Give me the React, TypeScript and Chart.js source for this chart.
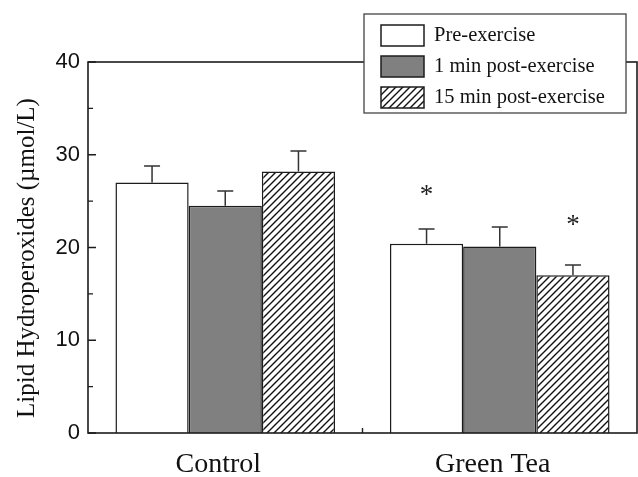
import React, { useEffect, useRef } from "react";
import { Chart, registerables } from "chart.js";

Chart.register(...registerables);

const categories = ["Control", "Green Tea"];
const seriesLabels = ["Pre-exercise", "1 min post-exercise", "15 min post-exercise"];
const yAxisTitle = "Lipid Hydroperoxides (µmol/L)";
const preValues = [27.0, 20.4];
const preErrors = [1.8, 1.6];
const post1Values = [24.5, 20.1];
const post1Errors = [1.6, 2.1];
const post15Values = [28.2, 17.0];
const post15Errors = [2.2, 1.1];
// asterisk (significance) markers: [datasetIndex, categoryIndex, level]
const starMarks: [number, number, number][] = [
  [0, 1, 26.0],
  [2, 1, 22.8],
];
const yTicks = [0, 10, 20, 30, 40];
const yMinorTicks = [5, 15, 25, 35];

const INK = "#1c1c1c";

function makeHatch(): CanvasPattern | string {
  const s = 7;
  const c = document.createElement("canvas");
  c.width = s;
  c.height = s;
  const g = c.getContext("2d");
  if (!g) return "#fff";
  g.fillStyle = "#fff";
  g.fillRect(0, 0, s, s);
  g.strokeStyle = "#111";
  g.lineWidth = 1.4;
  g.beginPath();
  g.moveTo(0, s);
  g.lineTo(s, 0);
  g.moveTo(-1, 1);
  g.lineTo(1, -1);
  g.moveTo(s - 1, s + 1);
  g.lineTo(s + 1, s - 1);
  g.stroke();
  const p = g.createPattern(c, "repeat");
  return p || "#fff";
}

export default function App() {
  const ref = useRef<HTMLCanvasElement | null>(null);

  useEffect(() => {
    document.body.style.margin = "0";
    const canvas = ref.current;
    if (!canvas) return;
    const hatch = makeHatch();
    const errs = [preErrors, post1Errors, post15Errors];

    const overlay = {
      id: "overlay",
      afterDatasetsDraw(chart: any) {
        const ctx = chart.ctx as CanvasRenderingContext2D;
        const ys = chart.scales.y;
        const xs = chart.scales.x;
        const area = chart.chartArea;
        ctx.save();
        // error bars
        ctx.strokeStyle = "#333";
        ctx.lineWidth = 1.5;
        chart.data.datasets.forEach((ds: any, i: number) => {
          const meta = chart.getDatasetMeta(i);
          meta.data.forEach((bar: any, j: number) => {
            const v = ds.data[j];
            const top = ys.getPixelForValue(v + errs[i][j]);
            ctx.beginPath();
            ctx.moveTo(bar.x, bar.y);
            ctx.lineTo(bar.x, top);
            ctx.moveTo(bar.x - 8, top);
            ctx.lineTo(bar.x + 8, top);
            ctx.stroke();
          });
        });
        // frame
        ctx.strokeStyle = INK;
        ctx.lineWidth = 1.6;
        ctx.strokeRect(area.left, area.top, area.right - area.left, area.bottom - area.top);
        // y ticks (inward)
        ctx.lineWidth = 1.4;
        ctx.beginPath();
        yTicks.forEach((t) => {
          const y = ys.getPixelForValue(t);
          ctx.moveTo(area.left, y);
          ctx.lineTo(area.left + 8, y);
        });
        yMinorTicks.forEach((t) => {
          const y = ys.getPixelForValue(t);
          ctx.moveTo(area.left, y);
          ctx.lineTo(area.left + 5, y);
        });
        // x tick between categories
        for (let k = 0; k < categories.length - 1; k++) {
          const x = (xs.getPixelForValue(k) + xs.getPixelForValue(k + 1)) / 2;
          ctx.moveTo(x, area.bottom);
          ctx.lineTo(x, area.bottom - 5);
        }
        ctx.stroke();
        // y axis title
        ctx.save();
        ctx.translate(27, 258);
        ctx.rotate(-Math.PI / 2);
        ctx.fillStyle = "#111";
        ctx.font = "25px 'Liberation Serif'";
        ctx.textAlign = "center";
        ctx.textBaseline = "middle";
        ctx.fillText(yAxisTitle, 0, 0);
        ctx.restore();
        // asterisks
        ctx.fillStyle = "#222";
        ctx.font = "27px 'Liberation Serif'";
        ctx.textAlign = "center";
        ctx.textBaseline = "alphabetic";
        starMarks.forEach(([di, ci, level]) => {
          const bar = chart.getDatasetMeta(di).data[ci];
          const y = ys.getPixelForValue(level);
          ctx.fillText("*", bar.x, y + 11);
        });
        // legend
        const lx = 364, ly = 14, lw = 262, lh = 99;
        ctx.fillStyle = "#fff";
        ctx.fillRect(lx, ly, lw, lh);
        ctx.strokeStyle = "#444";
        ctx.lineWidth = 1.3;
        ctx.strokeRect(lx, ly, lw, lh);
        ctx.font = "20.5px 'Liberation Serif'";
        ctx.textAlign = "left";
        ctx.textBaseline = "middle";
        chart.data.datasets.forEach((ds: any, i: number) => {
          const cy = 35 + i * 31;
          ctx.fillStyle = ds.backgroundColor;
          ctx.fillRect(381, cy - 10, 43, 21);
          ctx.strokeStyle = INK;
          ctx.lineWidth = 1.5;
          ctx.strokeRect(381, cy - 10, 43, 21);
          ctx.fillStyle = "#111";
          ctx.fillText(ds.label, 434, cy + 1);
        });
        ctx.restore();
      },
    };

    const chart = new Chart(canvas, {
      type: "bar",
      data: {
        labels: categories,
        datasets: [
          { label: seriesLabels[0], data: preValues, backgroundColor: "#ffffff", borderColor: INK, borderWidth: 1.5 },
          { label: seriesLabels[1], data: post1Values, backgroundColor: "#808080", borderColor: INK, borderWidth: 1.5 },
          { label: seriesLabels[2], data: post15Values, backgroundColor: hatch as any, borderColor: INK, borderWidth: 1.5 },
        ],
      },
      options: {
        responsive: false,
        animation: false,
        layout: { padding: { left: 0, right: 1, top: 62, bottom: 0 } },
        datasets: { bar: { barPercentage: 1.0, categoryPercentage: 0.8 } },
        plugins: { legend: { display: false }, tooltip: { enabled: false }, title: { display: false } },
        scales: {
          x: {
            grid: { display: false, drawTicks: false },
            border: { display: false },
            ticks: {
              color: "#111",
              font: { family: "'Liberation Serif'", size: 28 },
              padding: 15,
              labelOffset: -7,
            },
            afterFit: (s: any) => { s.height = 44; },
          },
          y: {
            min: 0,
            max: 40,
            grid: { display: false, drawTicks: false },
            border: { display: false },
            ticks: {
              stepSize: 10,
              color: "#111",
              font: { family: "'Liberation Sans'", size: 22 },
              padding: 8,
            },
            afterFit: (s: any) => { s.width = 88; },
          },
        },
      },
      plugins: [overlay],
    });
    return () => chart.destroy();
  }, []);

  return <canvas ref={ref} width={638} height={477} style={{ display: "block" }} />;
}
